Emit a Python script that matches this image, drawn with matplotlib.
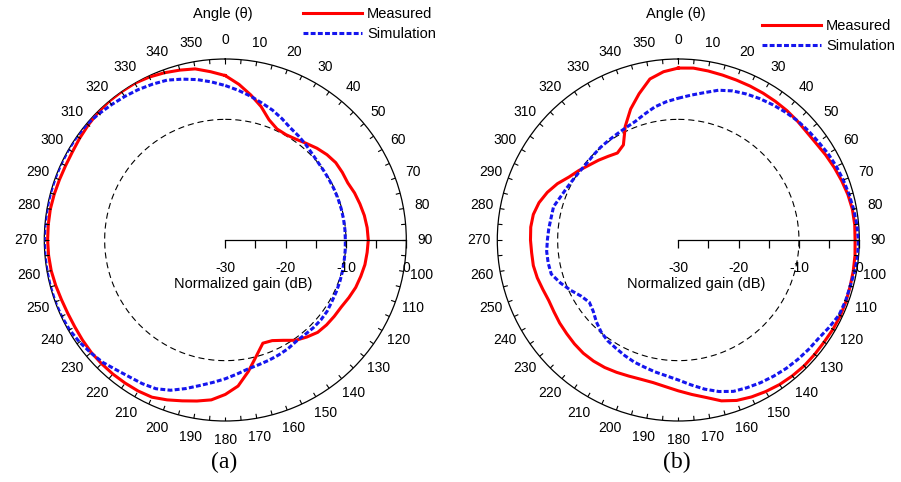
import numpy as np
import matplotlib
matplotlib.use("Agg")
import matplotlib.pyplot as plt

plt.rcParams['font.family'] = ['Liberation Sans', 'DejaVu Sans']

# ---------------- data ----------------
ANGLES_DEG = list(range(0, 360, 5))

MEAS_A = [-2.75, -4.1, -5.6, -7.1, -8.8, -9.7, -9.85, -9.6, -9.1, -8.5, -8.0, -7.65,
          -7.6, -7.6, -7.2, -6.9, -6.6, -6.4, -6.3, -6.4, -6.5, -6.75, -7.0, -7.4,
          -7.8, -7.95, -8.1, -8.35, -9.0, -9.7, -10.8, -11.6, -11.8, -10.1, -7.9, -5.7,
          -4.4, -3.4, -2.9, -2.4, -1.8, -1.25, -1.1, -1.05, -1.0, -1.0, -1.0, -1.1,
          -1.2, -1.2, -1.1, -0.9, -0.7, -0.6, -0.55, -0.55, -0.55, -0.65, -0.75, -0.8,
          -0.75, -0.55, -0.35, -0.15, 0.0, 0.0, 0.0, -0.2, -0.5, -0.85, -1.2, -2.0]

SIM_A = [-4.4, -5.1, -5.8, -6.5, -7.1, -7.8, -8.5, -8.9, -9.3, -9.7, -9.95, -10.05,
         -10.1, -10.1, -10.1, -10.1, -10.1, -10.1, -10.1, -10.05, -10.0, -9.9, -9.8, -9.7,
         -9.6, -9.4, -9.35, -9.4, -9.5, -9.5, -9.2, -9.0, -8.8, -8.6, -8.3, -7.7,
         -7.0, -6.3, -5.5, -4.5, -3.5, -2.8, -2.5, -2.3, -1.9, -1.3, -0.9, -0.5,
         -0.2, -0.05, 0.0, 0.0, 0.0, 0.0, 0.0, 0.0, 0.0, 0.0, 0.0, 0.0,
         0.0, 0.0, -0.1, -0.4, -0.7, -0.95, -1.2, -1.5, -1.8, -2.4, -3.0, -3.7]

MEAS_B = [-1.5, -1.4, -1.55, -1.7, -1.8, -1.85, -1.9, -1.95, -2.0, -2.1, -2.2, -2.1,
          -1.8, -1.5, -1.2, -0.9, -0.7, -0.65, -0.7, -0.6, -0.55, -0.5, -0.4, -0.35,
          -0.4, -0.5, -0.5, -0.5, -0.6, -0.75, -1.0, -1.3, -1.7, -2.4, -3.5, -4.3,
          -5.0, -5.6, -6.0, -6.1, -6.0, -5.8, -5.6, -5.5, -5.5, -5.65, -5.85, -6.0,
          -6.2, -6.3, -6.1, -5.8, -5.6, -5.6, -5.5, -5.45, -5.6, -6.1, -6.9, -7.9,
          -9.1, -9.9, -10.7, -11.3, -11.9, -12.4, -11.8, -9.2, -6.9, -4.9, -2.9, -2.0]

SIM_B = [-6.5, -5.9, -5.2, -4.3, -3.7, -3.3, -2.95, -2.65, -2.35, -2.05, -1.85, -1.65,
         -1.35, -1.1, -0.9, -0.7, -0.5, -0.3, -0.15, -0.15, -0.3, -0.5, -0.5, -0.6,
         -1.1, -1.6, -1.8, -2.0, -2.2, -2.45, -2.7, -3.0, -3.3, -4.0, -4.9, -5.9,
         -6.8, -7.4, -7.8, -8.2, -8.5, -8.9, -9.3, -9.6, -10.1, -10.8, -11.6, -12.0,
         -11.4, -10.3, -9.2, -8.2, -8.1, -8.1, -8.3, -8.45, -8.6, -8.6, -9.2, -9.6,
         -9.9, -10.1, -10.2, -10.1, -9.95, -9.85, -9.7, -9.45, -9.1, -8.4, -7.6, -7.0]

THETA_TICKS = list(range(0, 360, 10))
THETA_MINOR = list(range(0, 360, 5))
GAIN_TICKS = [-30, -25, -20, -15, -10, -5, 0]
GAIN_LABELS = ['-30', '', '-20', '', '-10', '', '0']
SERIES_NAMES = ['Measured', 'Simulation']
PANEL_LABELS = ['(a)', '(b)']

RED = '#ff0000'
BLUE = '#1515ee'

# ---------------- layout ----------------
W, H = 901, 482
fig = plt.figure(figsize=(W / 100, H / 100), dpi=100)

R_PX = 181.0
RMIN, RMAX = -30.0, 0.0
TICK_PX = 4.5
panels = [
    dict(cx=225.3, cy=240.0, meas=MEAS_A, sim=SIM_A, leg=(303.0, 6.8), lab=PANEL_LABELS[0]),
    dict(cx=678.3, cy=240.0, meas=MEAS_B, sim=SIM_B, leg=(761.7, 19.2), lab=PANEL_LABELS[1]),
]

th_full = np.deg2rad(np.append(ANGLES_DEG, ANGLES_DEG[0]))
circ = np.linspace(0, 2 * np.pi, 361)

for p in panels:
    l = (p['cx'] - R_PX) / W
    b = (H - p['cy'] - R_PX) / H
    ax = fig.add_axes([l, b, 2 * R_PX / W, 2 * R_PX / H], projection='polar')
    ax.set_theta_zero_location('N')
    ax.set_theta_direction(-1)
    ax.set_ylim(RMIN, RMAX)
    ax.grid(False)
    ax.set_yticks([])
    ax.set_xticks(np.deg2rad(THETA_TICKS))
    ax.set_xticklabels([str(t) for t in THETA_TICKS], fontsize=10)
    ax.tick_params(axis='x', which='both', length=0, pad=6.5, colors='black')
    ax.spines['polar'].set_linewidth(0.9)
    ax.patch.set_alpha(0)

    # inward tick marks on the outer circle, every 5 degrees
    tick_len = TICK_PX / R_PX * (RMAX - RMIN)
    ax.vlines(np.deg2rad(THETA_MINOR), RMAX - tick_len, RMAX, color='black', lw=0.8,
              zorder=5)

    # -10 dB reference circle
    ax.plot(circ, np.full_like(circ, -10.0), color='black', lw=0.8,
            linestyle=(0, (5.5, 3.5)), zorder=2)

    meas = np.append(p['meas'], p['meas'][0])
    sim = np.append(p['sim'], p['sim'][0])
    l1, = ax.plot(th_full, meas, color=RED, lw=2.2, zorder=3, solid_joinstyle='round')
    l2, = ax.plot(th_full, sim, color=BLUE, lw=2.2, linestyle=(0, (1.6, 0.75)), zorder=4)

    # radial gain axis (horizontal, from center to the right)
    rax = fig.add_axes([p['cx'] / W, (H - p['cy']) / H, R_PX / W, 1e-5])
    rax.set_xlim(RMIN, RMAX)
    rax.patch.set_alpha(0)
    for s in ['left', 'right', 'top']:
        rax.spines[s].set_visible(False)
    rax.spines['bottom'].set_linewidth(0.9)
    rax.set_yticks([])
    rax.set_xticks(GAIN_TICKS)
    rax.set_xticklabels(GAIN_LABELS, fontsize=10)
    rax.tick_params(axis='x', direction='out', length=6, width=0.9, pad=9)
    rax.set_xlabel('Normalized gain (dB)', fontsize=10.5, x=0.10, labelpad=1.5)

    # legend
    lx, ly = p['leg']
    fig.legend([l1, l2], SERIES_NAMES, loc='upper left',
               bbox_to_anchor=(lx / W, 1 - ly / H), frameon=False,
               fontsize=10.5, handlelength=4.05, handletextpad=0.35,
               labelspacing=0.40, borderpad=0, borderaxespad=0)

    # "Angle (θ)" title
    fig.text((p['cx'] - 2.6) / W, 1 - 14.0 / H, 'Angle (θ)', fontsize=10.5,
             ha='center', va='center')

    # panel label
    fig.text((p['cx'] - 1) / W, 1 - 468.0 / H, p['lab'], fontsize=17,
             family='Liberation Serif', ha='center', va='baseline')

fig.savefig('out.png', dpi=100)
